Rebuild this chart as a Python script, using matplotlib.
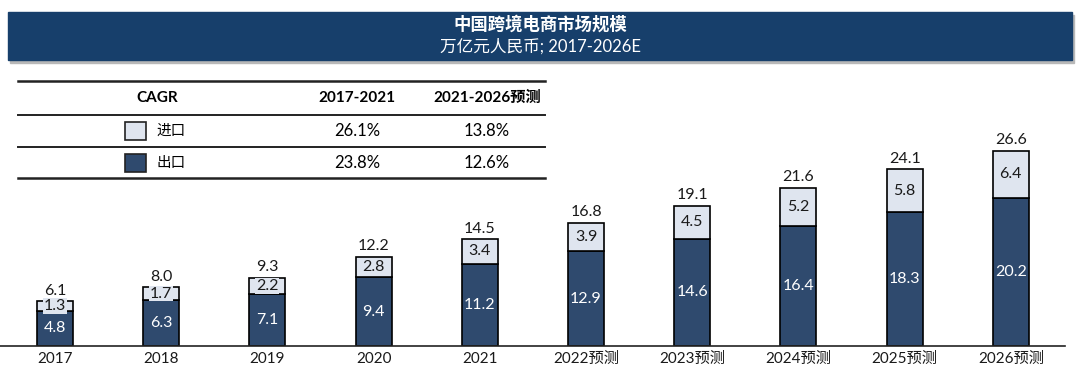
import matplotlib.pyplot as plt
from matplotlib.patches import Rectangle

plt.rcParams['font.family'] = ['Lato', 'Noto Sans CJK SC', 'DejaVu Sans']

years = ['2017', '2018', '2019', '2020', '2021',
         '2022预测', '2023预测', '2024预测', '2025预测', '2026预测']
export = [4.8, 6.3, 7.1, 9.4, 11.2, 12.9, 14.6, 16.4, 18.3, 20.2]
imports = [1.3, 1.7, 2.2, 2.8, 3.4, 3.9, 4.5, 5.2, 5.8, 6.4]
totals = [6.1, 8.0, 9.3, 12.2, 14.5, 16.8, 19.1, 21.6, 24.1, 26.6]

cagr_periods = ['2017-2021', '2021-2026预测']
cagr_import = ['26.1%', '13.8%']
cagr_export = ['23.8%', '12.6%']

dark = '#2f4a6e'
light = '#dfe5ef'
navy = '#173f6b'

W, H = 1080, 371
fig = plt.figure(figsize=(W / 100, H / 100), dpi=100)

# chart area
ax = fig.add_axes([0, 25 / H, 1065 / W, 276 / H])
x = list(range(len(years)))
ax.bar(x, export, width=0.34, color=dark, edgecolor='black', linewidth=1.2, zorder=2)
ax.bar(x, imports, width=0.34, bottom=export, color=light, edgecolor='black',
       linewidth=1.2, zorder=2)
for i in x:
    ax.text(i, export[i] / 2, f'{export[i]:.1f}', ha='center', va='center',
            color='white', fontsize=11.5, zorder=3)
    ax.text(i, export[i] + imports[i] / 2, f'{imports[i]:.1f}', ha='center',
            va='center', color='#1a1a1a', fontsize=11.5, zorder=3,
            bbox=dict(boxstyle='square,pad=0.05', fc=light, ec='none'))
    ax.text(i, totals[i] + 0.5, f'{totals[i]:.1f}', ha='center', va='bottom',
            color='#1a1a1a', fontsize=11.5, zorder=3)

ax.set_xlim(-0.518, 9.51)
ax.set_ylim(0, 37.65)
ax.set_xticks(x)
ax.set_xticklabels(years, fontsize=11, color='#1a1a1a')
ax.tick_params(axis='x', length=0, pad=4)
ax.set_yticks([])
for s in ['top', 'right', 'left']:
    ax.spines[s].set_visible(False)
ax.spines['bottom'].set_linewidth(1.2)
ax.spines['bottom'].set_color('#222222')
ax.patch.set_alpha(0)

# overlay in pixel coordinates for header band and CAGR table
ov = fig.add_axes([0, 0, 1, 1])
ov.set_xlim(0, W)
ov.set_ylim(H, 0)
ov.axis('off')
ov.patch.set_alpha(0)

ov.add_patch(Rectangle((10, 15), 1064, 48, color='#b8b8b8', zorder=1))
ov.add_patch(Rectangle((8, 12), 1064, 48, color=navy, zorder=2))
ov.text(540, 24, '中国跨境电商市场规模', ha='center', va='center', color='white',
        fontsize=12.5, fontweight='bold', zorder=3)
ov.text(540, 46, '万亿元人民币; 2017-2026E', ha='center', va='center', color='white',
        fontsize=12, zorder=3)

for yy, lw in [(81, 1.8), (115, 1.4), (147, 1.4), (178, 1.8)]:
    ov.plot([18, 545], [yy, yy], color='#222222', linewidth=lw)

col_x = [357, 487]
ov.text(157, 98, 'CAGR', ha='center', va='center', fontsize=11, fontweight='bold')
for cx, p in zip(col_x, cagr_periods):
    ov.text(cx, 98, p, ha='center', va='center', fontsize=11, fontweight='bold')

rows = [('进口', light, cagr_import, 131), ('出口', dark, cagr_export, 163)]
for name, c, vals, yy in rows:
    ov.add_patch(Rectangle((125, yy - 9), 21, 18, facecolor=c, edgecolor='#222222',
                           linewidth=1.2))
    ov.text(156, yy, name, ha='left', va='center', fontsize=10.5)
    for cx, v in zip(col_x, vals):
        ov.text(cx, yy, v, ha='center', va='center', fontsize=12)

fig.savefig('out.png', dpi=100)
